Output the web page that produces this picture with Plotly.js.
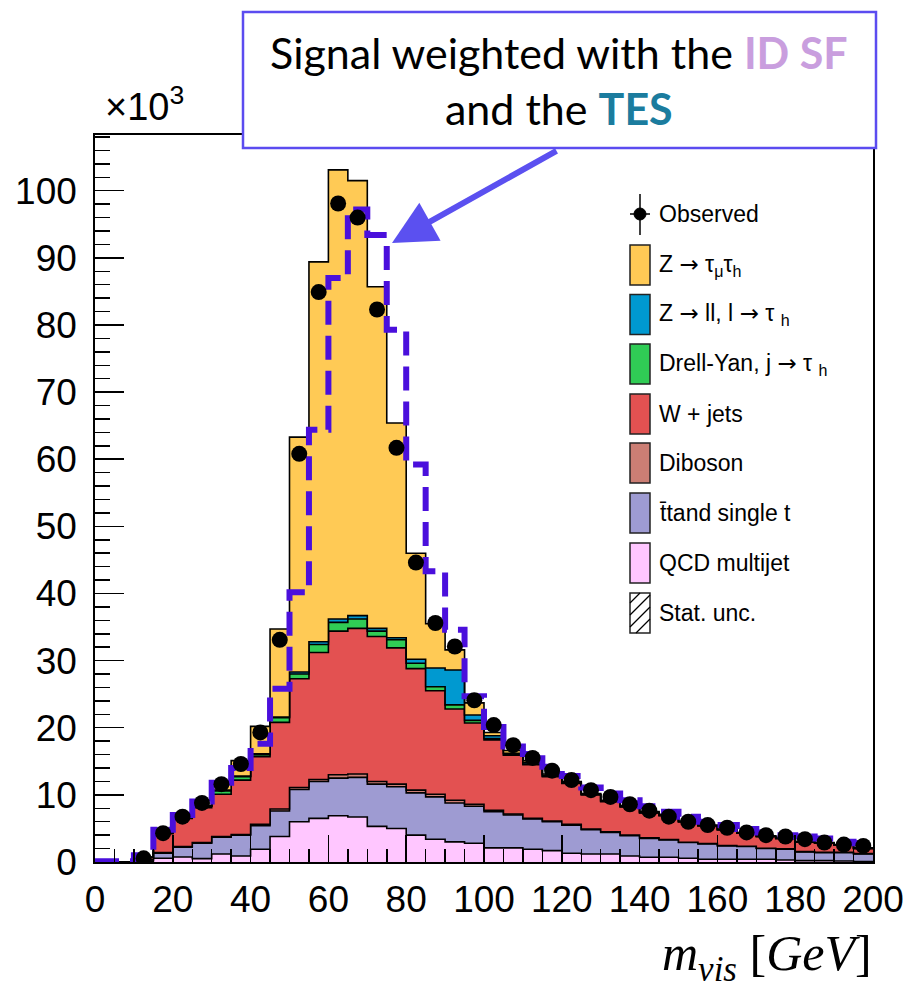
<!DOCTYPE html>
<html><head><meta charset="utf-8">
<script src="https://cdn.plot.ly/plotly-3.0.1.min.js"></script>
<style>html,body{margin:0;padding:0;background:#fff}#chart{width:915px;height:991px}</style>
</head><body><div id="chart"></div>
<script>
// ---- data (values in units of 10^3 events), 5 GeV bins from 0 to 200 ----
const binEdges = [0,5,10,15,20,25,30,35,40,45,50,55,60,65,70,75,80,85,90,95,100,105,110,115,120,125,130,135,140,145,150,155,160,165,170,175,180,185,190,195,200];
const xTickVals = [0,20,40,60,80,100,120,140,160,180,200];
const yTickVals = [0,10,20,30,40,50,60,70,80,90,100];

const qcd     = [0,0,0.1,0.55,0.75,0.5,1.2,0.9,1.9,3.8,6.0,6.5,6.9,6.7,5.3,5.0,4.0,3.4,3.0,2.8,2.1,2.1,1.9,1.7,1.3,1.2,1.2,0.9,0.7,0.7,0.55,0.4,0.4,0.4,0.4,0.3,0.2,0.2,0.15,0.05];
const ttbar   = [0,0,0.2,0.75,1.45,2.3,2.5,3.1,3.5,3.8,4.8,5.5,5.6,5.9,6.3,6.2,6.3,6.3,5.8,5.5,5.4,4.9,4.5,4.3,4.2,3.6,3.2,3.0,2.8,2.6,2.35,2.3,2.0,1.9,1.6,1.6,1.3,1.2,1.25,1.15];
const diboson = [0,0,0.05,0.1,0.1,0.1,0.1,0.1,0.2,0.3,0.3,0.3,0.5,0.5,0.4,0.4,0.4,0.4,0.4,0.3,0.2,0.15,0.1,0.1,0.1,0.1,0.1,0.1,0.1,0.05,0.05,0.05,0.05,0.05,0.05,0.05,0.05,0.05,0.05,0.05];
const wjets   = [0,0,0.35,2.8,4.2,5.2,6.3,8.1,10.1,12.9,16.2,18.9,21.4,21.7,21.6,20.3,18.1,15.4,13.6,12.1,10.5,8.75,8.0,6.6,6.1,5.1,4.5,4.2,3.7,3.55,3.05,2.65,2.35,1.95,1.75,1.55,1.45,1.35,1.05,0.75];
const dyjets  = [0,0,0,0.1,0.1,0.2,0.5,0.5,0.3,0.7,0.7,1.2,1.3,1.4,0.8,1.2,0.8,0.6,0.6,0.4,0.2,0.1,0.1,0.1,0.05,0.05,0.05,0.05,0.05,0.05,0,0,0,0,0,0,0,0,0,0];
const zll     = [0,0,0,0,0,0,0.1,0.1,0.1,0.1,0.3,0.4,0.5,0.5,0.4,0.3,0.6,2.8,5.2,0.8,0.4,0.2,0.2,0.1,0.05,0.05,0.05,0.05,0.05,0.05,0,0,0,0,0,0,0,0,0,0];
const ztt     = [0,0,0,0.1,0.1,0.1,1.0,2.3,4.1,13.1,35.0,56.6,66.9,64.8,50.9,32.0,15.8,6.6,3.0,1.8,0.5,0.4,0.3,0.2,0.2,0.1,0.1,0.1,0.1,0.1,0.1,0.1,0.1,0.1,0.1,0.1,0.1,0.1,0.1,0.1];
const signalWeighted = [0.1,0.1,1.0,4.8,7.0,9.0,11.8,14.0,17.6,25.8,40.2,64.4,87.0,97.2,93.4,79.3,59.2,43.3,34.6,24.7,20.1,17.2,16.1,14.2,12.8,11.1,10.2,9.2,8.3,7.5,6.75,6.0,5.5,4.9,4.4,4.0,3.8,3.5,3.0,2.8];
const observed = [null,null,0.55,4.3,6.75,8.8,11.6,14.6,19.3,33.1,60.8,84.9,98.1,96.0,82.3,61.7,44.6,35.6,32.1,24.1,20.4,17.4,15.5,13.6,12.2,10.7,9.7,8.6,7.65,6.75,6.0,5.5,5.1,4.4,4.0,3.8,3.4,2.9,2.6,2.4];

const ARROW = '<span style="font-family:DejaVu Sans">\u2192</span>';
const processes = [
  {name:'QCD multijet', vals:qcd, color:'#FFC6FF'},
  {name:'t\u0304tand single t', vals:ttbar, color:'#9E9BD2'},
  {name:'Diboson', vals:diboson, color:'#CB7E74'},
  {name:'W + jets', vals:wjets, color:'#E35151'},
  {name:'Drell-Yan, j ' + ARROW + ' \u03c4 <sub>h</sub>', vals:dyjets, color:'#30CC55'},
  {name:'Z ' + ARROW + ' ll, l ' + ARROW + ' \u03c4 <sub>h</sub>', vals:zll, color:'#0099D0'},
  {name:'Z ' + ARROW + ' \u03c4<sub>\u03bc</sub>\u03c4<sub>h</sub>', vals:ztt, color:'#FFCA55'}
];

// ---- traces ----
const traces = [];
let cum = new Array(qcd.length).fill(0);
processes.forEach((p, i) => {
  cum = cum.map((c, k) => c + p.vals[k]);
  const ys = cum.concat([cum[cum.length-1]]);
  traces.push({
    type:'scatter', mode:'lines', x: binEdges, y: ys,
    line:{shape:'hv', color:'#000', width:1.6},
    fill: i === 0 ? 'tozeroy' : 'tonexty', fillcolor: p.color,
    name: p.name, showlegend:false, hoverinfo:'skip'
  });
});
traces.push({
  type:'scatter', mode:'lines', x: binEdges, y: signalWeighted.concat([signalWeighted[signalWeighted.length-1]]),
  line:{shape:'hv', color:'#4A0FDC', width:6, dash:'24px,11px'},
  showlegend:false, hoverinfo:'skip', name:'signal weighted'
});
const centers = binEdges.slice(0,-1).map((e, k) => (e + binEdges[k+1]) / 2);
traces.push({
  type:'scatter', mode:'markers', x: centers, y: observed,
  marker:{color:'#000', size:16}, showlegend:false, name:'Observed'
});

// ---- layout helpers (pixel -> paper) ----
const L=95, R=873, T=135, B=862;
const X = px => (px-L)/(R-L);
const Y = py => (B-py)/(B-T);

const shapes = [];
const annotations = [];

// legend (drawn by hand, ROOT style)
const legendRows = [
  {label:processes[6].name, color:'#FFCA55', cy:265},
  {label:processes[5].name, color:'#0099D0', cy:314.5},
  {label:processes[4].name, color:'#30CC55', cy:364},
  {label:'W + jets', color:'#E35151', cy:414},
  {label:'Diboson', color:'#CB7E74', cy:463},
  {label:'t\u0304tand single t', color:'#9E9BD2', cy:513},
  {label:'QCD multijet', color:'#FFC6FF', cy:563},
  {label:'Stat. unc.', color:'#FFFFFF', cy:613}
];
const legFont = {family:'Liberation Sans, Arial, sans-serif', size:23, color:'#000'};
legendRows.forEach(r => {
  shapes.push({type:'rect', xref:'paper', yref:'paper', x0:X(630), x1:X(650), y0:Y(r.cy+20), y1:Y(r.cy-20),
    fillcolor:r.color, line:{color:'#222', width:1.5}, layer:'above'});
  annotations.push({xref:'paper', yref:'paper', x:X(657), y:Y(r.cy), xanchor:'left', yanchor:'middle',
    text:r.label, showarrow:false, font:legFont});
});
// hatch for Stat. unc.
[[630,603,640,593],[630,615,650,595],[630,627,650,607],[636,633,650,619]].forEach(s => {
  shapes.push({type:'line', xref:'paper', yref:'paper', x0:X(s[0]), y0:Y(s[1]), x1:X(s[2]), y1:Y(s[3]),
    line:{color:'#000', width:1.2}, layer:'above'});
});
// Observed legend symbol
shapes.push({type:'line', xref:'paper', yref:'paper', x0:X(640), x1:X(640), y0:Y(194), y1:Y(235), line:{color:'#000', width:1.5}, layer:'above'});
shapes.push({type:'line', xref:'paper', yref:'paper', x0:X(630), x1:X(650), y0:Y(214), y1:Y(214), line:{color:'#000', width:1.5}, layer:'above'});
shapes.push({type:'circle', xref:'paper', yref:'paper', xsizemode:'pixel', ysizemode:'pixel',
  xanchor:X(640), yanchor:Y(214), x0:-6, x1:6, y0:-6, y1:6, fillcolor:'#000', line:{color:'#000', width:1}, layer:'above'});
annotations.push({xref:'paper', yref:'paper', x:X(657), y:Y(214), xanchor:'left', yanchor:'middle',
  text:'Observed', showarrow:false, font:legFont});

// callout box
shapes.push({type:'rect', xref:'paper', yref:'paper', x0:X(243), x1:X(876), y0:Y(148), y1:Y(12),
  fillcolor:'#FFFFFF', line:{color:'#5B4CF0', width:2.5}, layer:'above'});
annotations.push({xref:'paper', yref:'paper', x:X(559), y:Y(80), xanchor:'center', yanchor:'middle',
  text:'Signal weighted with the <b><span style="color:#C99EDE">ID SF</span></b><br>and the <b><span style="color:#1B7C9E">TES</span></b>',
  showarrow:false, font:{family:'Lato, Open Sans, sans-serif', size:43, color:'#000'}, align:'center'});
annotations.push({xref:'paper', yref:'paper', x:X(392), y:Y(243), ax:166, ay:-93, text:'',
  showarrow:true, arrowhead:2, arrowsize:1.45, arrowwidth:6, arrowcolor:'#5B50F0'});

// x10^3
annotations.push({xref:'paper', yref:'paper', x:X(103), y:Y(104), xanchor:'left', yanchor:'middle',
  text:'\u00d710<sup>3</sup>', showarrow:false, font:{family:'Liberation Sans, Arial, sans-serif', size:38, color:'#000'}});
// x title
annotations.push({xref:'paper', yref:'paper', x:X(874), y:Y(957), xanchor:'right', yanchor:'middle',
  text:'<i>m</i><sub><i>vis</i></sub> [<i>GeV</i>]', showarrow:false,
  font:{family:'Liberation Serif, DejaVu Serif, serif', size:50, color:'#000'}});

const tickFont = {family:'Liberation Sans, Arial, sans-serif', size:37, color:'#000'};
const layout = {
  width:915, height:991,
  margin:{l:L, r:915-R, t:T, b:991-B, pad:0},
  paper_bgcolor:'#fff', plot_bgcolor:'#fff',
  showlegend:false,
  xaxis:{range:[0,200], tickmode:'array', tickvals:xTickVals, ticktext:xTickVals.map(String),
    ticks:'inside', ticklen:27, tickwidth:1.5, tickcolor:'#000',
    minor:{dtick:5, tick0:0, ticks:'inside', ticklen:13, tickwidth:1.5, tickcolor:'#000', showgrid:false},
    showline:true, linecolor:'#000', linewidth:1.8, mirror:true, showgrid:false, zeroline:false,
    tickfont:tickFont, ticklabelstandoff:4},
  yaxis:{range:[0,108.3], tickmode:'array', tickvals:yTickVals, ticktext:yTickVals.map(String),
    ticks:'inside', ticklen:29, tickwidth:1.5, tickcolor:'#000',
    minor:{dtick:2, tick0:0, ticks:'inside', ticklen:15, tickwidth:1.5, tickcolor:'#000', showgrid:false},
    showline:true, linecolor:'#000', linewidth:1.8, mirror:true, showgrid:false, zeroline:false,
    tickfont:tickFont, ticklabelstandoff:9},
  shapes:shapes, annotations:annotations
};
Plotly.newPlot('chart', traces, layout, {displayModeBar:false, staticPlot:true});
</script></body></html>
